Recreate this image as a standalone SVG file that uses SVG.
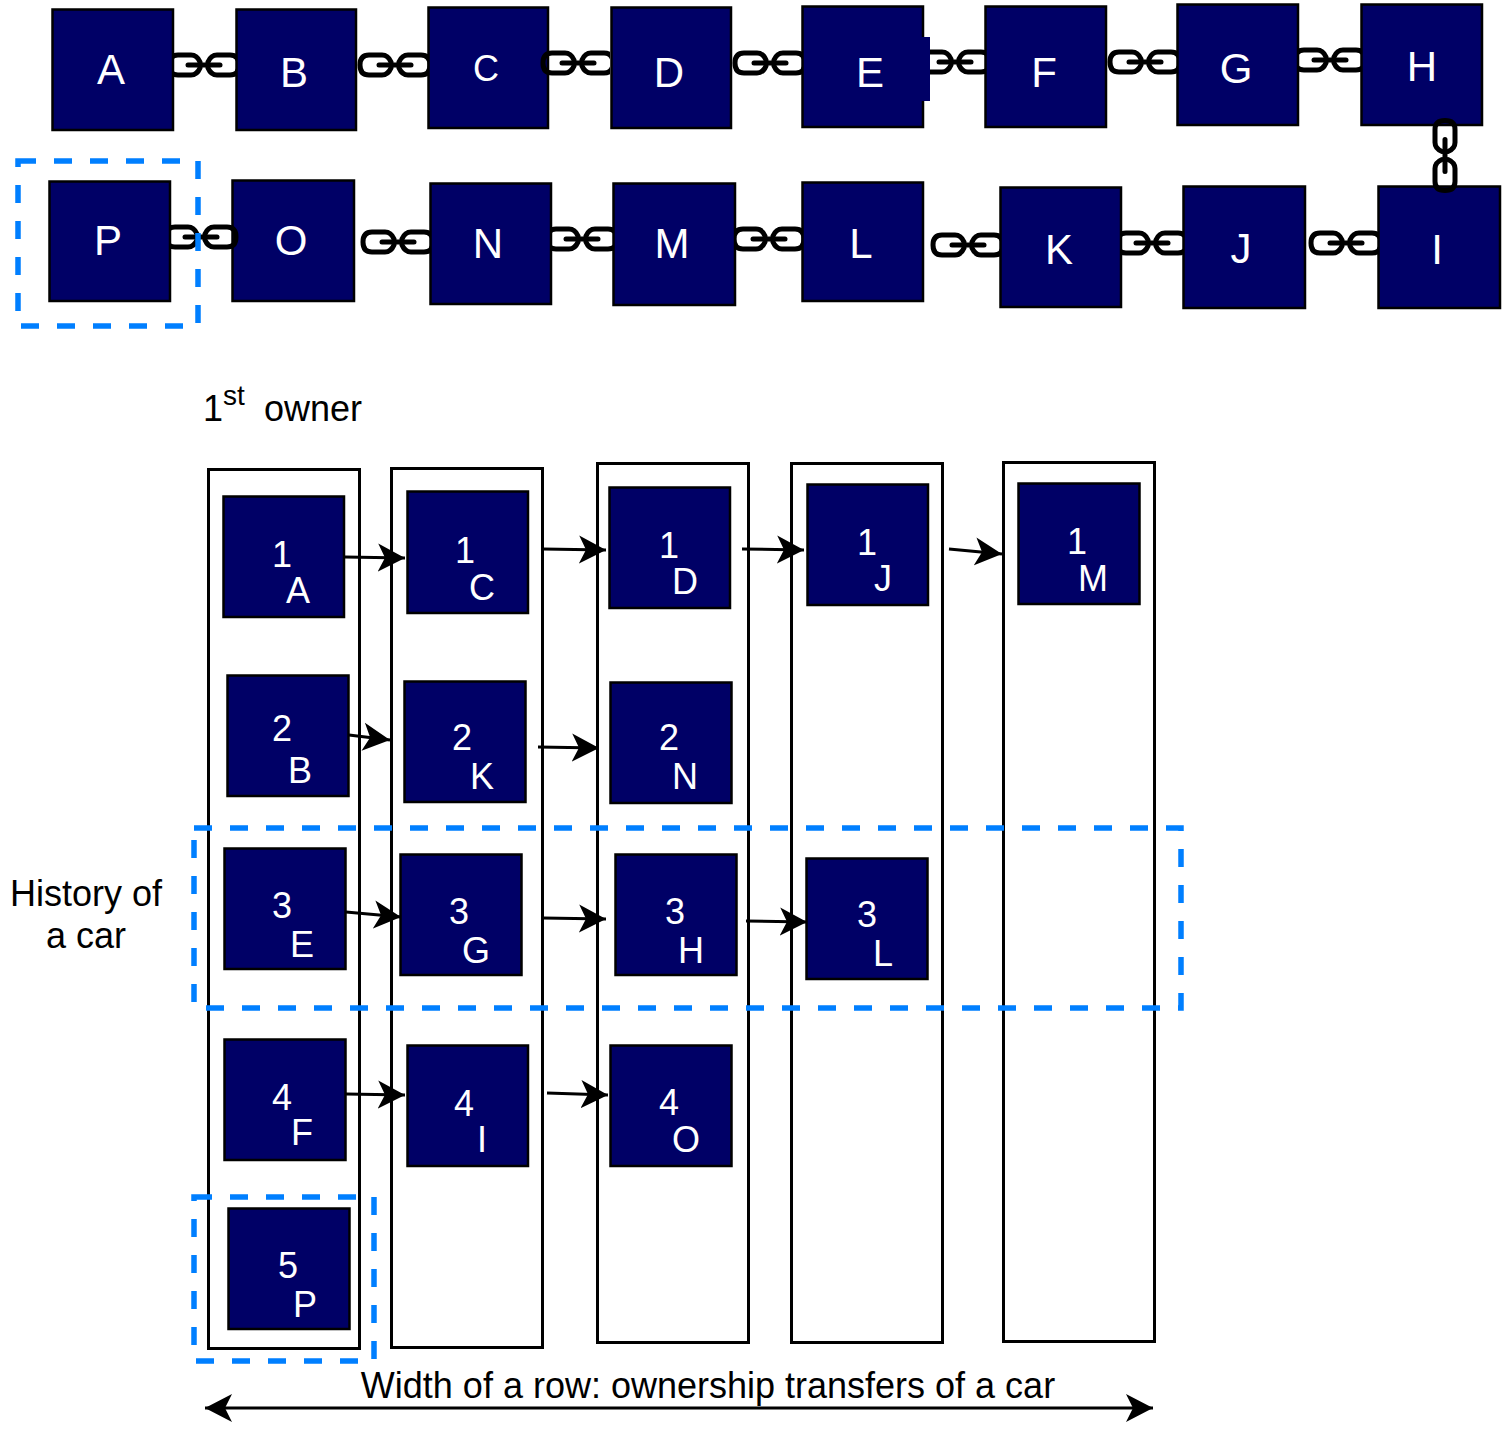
<svg xmlns="http://www.w3.org/2000/svg" xmlns:xlink="http://www.w3.org/1999/xlink" width="1506" height="1440" viewBox="0 0 1506 1440">
<style>
text{font-family:"Liberation Sans",Arial,sans-serif;text-anchor:middle}
.n{fill:#000066;stroke:#000;stroke-width:2.500}
.l{fill:#fff;font-size:42px}
.s{fill:#fff;font-size:36px}
.t{fill:#000;font-size:36px}
.col{fill:none;stroke:#000;stroke-width:3}
.d{fill:none;stroke:#007fff;stroke-width:5.500;stroke-dasharray:18 18}
.a{fill:none;stroke:#000;stroke-width:3;marker-end:url(#h)}
.c{fill:none;stroke:#000;stroke-width:5;stroke-linecap:round}
</style>
<defs>
<marker id="h" markerUnits="userSpaceOnUse" markerWidth="30" markerHeight="30" refX="27" refY="15" orient="auto-start-reverse"><path d="M0,1 L27,15 L0,29 L7,15Z" fill="#000"/></marker>
<g id="link"><path class="c" d="M-4,-3Q-7,-10-13,-10H-26Q-35,-10-35,0Q-35,10-26,10H-13Q-7,10-4,3"/><path class="c" d="M4,-3Q7,-10 13,-10H26Q35,-10 35,0Q35,10 26,10H13Q7,10 4,3"/><path class="c" d="M-16,0H16"/></g>
<clipPath id="cd"><rect x="500" y="30" width="110" height="70"/></clipPath>
<clipPath id="po"><rect x="171" y="210" width="100" height="60"/></clipPath>
</defs>
<g id="connectors">
<use xlink:href="#link" href="#link" x="204" y="65"/>
<use xlink:href="#link" href="#link" x="395" y="65"/>
<use xlink:href="#link" href="#link" x="770" y="63"/>
<use xlink:href="#link" href="#link" x="955" y="62"/>
<use xlink:href="#link" href="#link" x="1145" y="62"/>
<use xlink:href="#link" href="#link" x="1330" y="60"/>
<use xlink:href="#link" href="#link" x="398" y="242"/>
<use xlink:href="#link" href="#link" x="582" y="239"/>
<use xlink:href="#link" href="#link" x="769" y="239"/>
<use xlink:href="#link" href="#link" x="968" y="245"/>
<use xlink:href="#link" href="#link" x="1152" y="243"/>
<use xlink:href="#link" href="#link" x="1346" y="243"/>
</g>
<g id="node-A"><rect class="n" x="52.500" y="9.500" width="120.500" height="120.500"/><text class="l" x="111" y="84">A</text></g>
<g id="node-B"><rect class="n" x="236.500" y="9.500" width="119.500" height="120.500"/><text class="l" x="294" y="87">B</text></g>
<g id="node-C"><rect class="n" x="428.500" y="7.500" width="119.500" height="120.500"/><text class="l" x="486" y="81" style="font-size:36px">C</text></g>
<g id="node-D"><rect class="n" x="611.500" y="7.500" width="119.500" height="120.500"/><text class="l" x="669" y="87">D</text></g>
<g id="node-E"><rect class="n" x="802.500" y="6.500" width="120.500" height="120.500"/><rect x="920" y="37" width="10" height="64" fill="#000066"/><text class="l" x="870" y="87">E</text></g>
<g id="node-F"><rect class="n" x="985.500" y="6.500" width="120.500" height="120.500"/><text class="l" x="1044" y="87">F</text></g>
<g id="node-G"><rect class="n" x="1177.500" y="4.500" width="120.500" height="120.500"/><text class="l" x="1236" y="83">G</text></g>
<g id="node-H"><rect class="n" x="1361.500" y="4.500" width="120.500" height="120.500"/><text class="l" x="1422" y="81">H</text></g>
<g id="node-P"><rect class="n" x="49.500" y="181.500" width="120.500" height="119.500"/><text class="l" x="108" y="255">P</text></g>
<g id="node-O"><rect class="n" x="232.500" y="180.500" width="121.500" height="120.500"/><text class="l" x="291" y="255">O</text></g>
<g id="node-N"><rect class="n" x="430.500" y="183.500" width="120.500" height="120.500"/><text class="l" x="488" y="258">N</text></g>
<g id="node-M"><rect class="n" x="613.500" y="183.500" width="121.500" height="121.500"/><text class="l" x="672" y="258">M</text></g>
<g id="node-L"><rect class="n" x="802.500" y="182.500" width="120.500" height="118.500"/><text class="l" x="861" y="258">L</text></g>
<g id="node-K"><rect class="n" x="1000.500" y="187.500" width="120.500" height="119.500"/><text class="l" x="1059" y="264">K</text></g>
<g id="node-J"><rect class="n" x="1183.500" y="186.500" width="121.500" height="121.500"/><text class="l" x="1241" y="263">J</text></g>
<g id="node-I"><rect class="n" x="1378.500" y="186.500" width="121.500" height="121.500"/><text class="l" x="1437" y="264">I</text></g>
<g id="connectors-over">
<g clip-path="url(#cd)"><use xlink:href="#link" href="#link" x="578" y="63"/></g>
<g clip-path="url(#po)"><use xlink:href="#link" href="#link" x="201" y="237"/></g>
<use xlink:href="#link" href="#link" transform="translate(1445 155.500) rotate(90)"/>
</g>
<g id="columns">
<rect class="col" x="208.500" y="469.500" width="151" height="879"/>
<rect class="col" x="391.500" y="468.500" width="151" height="879"/>
<rect class="col" x="597.500" y="463.500" width="151" height="879"/>
<rect class="col" x="791.500" y="463.500" width="151" height="879"/>
<rect class="col" x="1003.500" y="462.500" width="151" height="879"/>
</g>
<g id="node-1A"><rect class="n" x="223.500" y="496.500" width="120.500" height="120.500"/><text class="s" x="282" y="567">1</text><text class="s" x="298" y="603">A</text></g>
<g id="node-1C"><rect class="n" x="407.500" y="491.500" width="120.500" height="121.500"/><text class="s" x="465" y="563">1</text><text class="s" x="482" y="600">C</text></g>
<g id="node-1D"><rect class="n" x="609.500" y="487.500" width="120.500" height="120.500"/><text class="s" x="669" y="558">1</text><text class="s" x="685" y="594">D</text></g>
<g id="node-1J"><rect class="n" x="807.500" y="484.500" width="120.500" height="120.500"/><text class="s" x="867" y="555">1</text><text class="s" x="883" y="591">J</text></g>
<g id="node-1M"><rect class="n" x="1018.500" y="483.500" width="121" height="120.500"/><text class="s" x="1077" y="554">1</text><text class="s" x="1093" y="591">M</text></g>
<g id="node-2B"><rect class="n" x="227.500" y="675.500" width="121" height="120.500"/><text class="s" x="282" y="741">2</text><text class="s" x="300" y="783">B</text></g>
<g id="node-2K"><rect class="n" x="404.500" y="681.500" width="121" height="120.500"/><text class="s" x="462" y="750">2</text><text class="s" x="482" y="789">K</text></g>
<g id="node-2N"><rect class="n" x="610.500" y="682.500" width="121" height="120.500"/><text class="s" x="669" y="750">2</text><text class="s" x="685" y="789">N</text></g>
<g id="node-3E"><rect class="n" x="224.500" y="848.500" width="121" height="120.500"/><text class="s" x="282" y="918">3</text><text class="s" x="302" y="957">E</text></g>
<g id="node-3G"><rect class="n" x="400.500" y="854.500" width="121" height="120.500"/><text class="s" x="459" y="924">3</text><text class="s" x="476" y="963">G</text></g>
<g id="node-3H"><rect class="n" x="615.500" y="854.500" width="121" height="120.500"/><text class="s" x="675" y="924">3</text><text class="s" x="691" y="963">H</text></g>
<g id="node-3L"><rect class="n" x="806.500" y="858.500" width="121" height="120.500"/><text class="s" x="867" y="927">3</text><text class="s" x="883" y="966">L</text></g>
<g id="node-4F"><rect class="n" x="224.500" y="1039.500" width="121" height="120.500"/><text class="s" x="282" y="1110">4</text><text class="s" x="302" y="1145">F</text></g>
<g id="node-4I"><rect class="n" x="407.500" y="1045.500" width="120.500" height="120.500"/><text class="s" x="464" y="1116">4</text><text class="s" x="482" y="1152">I</text></g>
<g id="node-4O"><rect class="n" x="610.500" y="1045.500" width="121" height="120.500"/><text class="s" x="669" y="1115">4</text><text class="s" x="686" y="1152">O</text></g>
<g id="node-5P"><rect class="n" x="228.500" y="1208.500" width="121" height="120.500"/><text class="s" x="288" y="1278">5</text><text class="s" x="305" y="1317">P</text></g>
<g id="arrows">
<path class="a" d="M345,557L405,558"/>
<path class="a" d="M543,549L606,550"/>
<path class="a" d="M742,549L804,550"/>
<path class="a" d="M949,549L1002,554"/>
<path class="a" d="M349,735L390,740"/>
<path class="a" d="M538,747L599,748"/>
<path class="a" d="M346,912L401,917"/>
<path class="a" d="M543,918L606,919"/>
<path class="a" d="M746,921L807,922"/>
<path class="a" d="M346,1094L405,1095"/>
<path class="a" d="M547,1093L608,1095"/>
<path class="a" d="M205,1408L1153,1408" style="marker-start:url(#h)"/>
</g>
<g id="highlights">
<rect class="d" x="18" y="161" width="180" height="165"/>
<rect class="d" x="194" y="828" width="987" height="180"/>
<rect class="d" x="194" y="1197" width="180" height="164"/>
</g>
<g id="labels">
<text class="t" x="213" y="421">1</text><text x="234" y="405" style="font-size:28px">st</text><text class="t" x="313" y="421">owner</text>
<text class="t" x="86" y="906">History of</text>
<text class="t" x="86" y="948">a car</text>
<text class="t" x="708" y="1398">Width of a row: ownership transfers of a car</text>
</g>
</svg>
